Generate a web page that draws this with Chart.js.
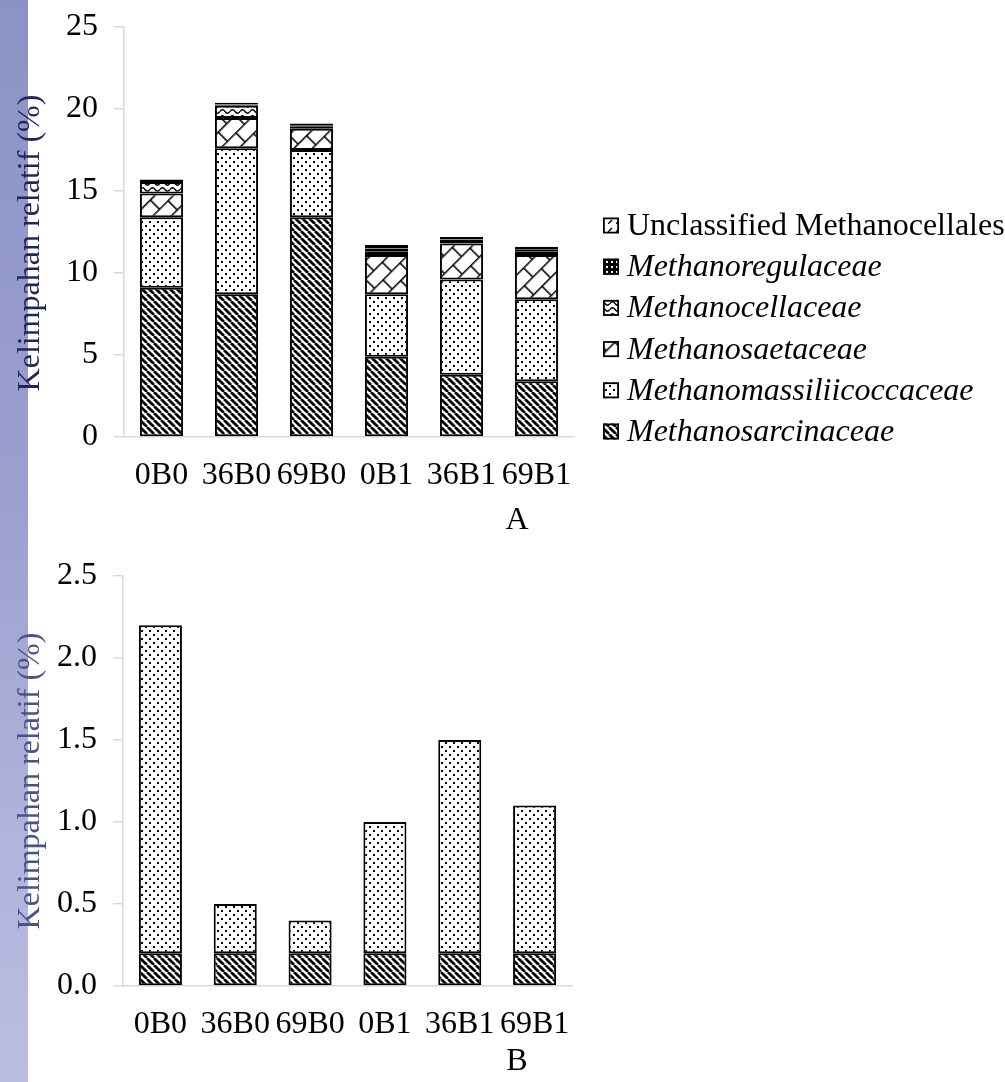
<!DOCTYPE html>
<html>
<head>
<meta charset="utf-8">
<script src="https://cdn.jsdelivr.net/npm/chart.js@4/dist/chart.umd.min.js"></script>
<style>
  html, body { margin: 0; padding: 0; background: #ffffff; }
  body { width: 1005px; height: 1082px; position: relative; overflow: hidden; }
  #band { position: absolute; left: 0; top: 0; width: 28px; height: 1082px;
          background: linear-gradient(to bottom, #8c92c5 0%, #9a9fce 45%, #b2b5dc 80%, #bbbde1 100%); }
  canvas { position: absolute; left: 0; }
  #chartA { top: 0; }
  #chartB { top: 545px; }
</style>
</head>
<body>
<div id="band"></div>
<canvas id="chartA" width="1005" height="545"></canvas>
<canvas id="chartB" width="1005" height="537"></canvas>
<script>
// ---- data -------------------------------------------------------------
const categories = ['0B0', '36B0', '69B0', '0B1', '36B1', '69B1'];

// Panel A: methanogen families (relative abundance, %)
const methanosarcinaceae       = [9.1, 8.7, 13.4, 4.9, 3.8, 3.4];
const methanomassiliicoccaceae = [4.3, 8.9, 4.1, 3.8, 5.8, 5.0];
const methanosaetaceae         = [1.45, 1.85, 1.3, 2.4, 2.2, 2.7];
const methanocellaceae         = [0.7, 0.75, 0.15, 0.2, 0.15, 0.2];
const methanoregulaceae        = [0.06, 0.08, 0.06, 0.2, 0.1, 0.15];
const unclassifiedMethanocellales = [0.09, 0.1, 0.1, 0.2, 0.15, 0.15];

// Panel B: methanotroph groups (relative abundance, %)
const methylocystaceae = [0.2, 0.2, 0.2, 0.2, 0.2, 0.2];
const anme2d           = [2.0, 0.3, 0.2, 0.8, 1.3, 0.9];

const ticksA = [0, 5, 10, 15, 20, 25];
const ticksB = [0.0, 0.5, 1.0, 1.5, 2.0, 2.5];
const axisTitle = 'Kelimpahan relatif (%)';

// ---- fill patterns ----------------------------------------------------
const FONT = "'Liberation Serif', 'Times New Roman', serif";
const FONT_SIZE = 32;
const patCtx = document.createElement('canvas').getContext('2d');

function makeTile(w, h, draw) {
  const c = document.createElement('canvas');
  c.width = w; c.height = h;
  const g = c.getContext('2d');
  g.fillStyle = '#ffffff';
  g.fillRect(0, 0, w, h);
  draw(g, w, h);
  return c;
}

function diagStripes() {           // wide downward diagonal
  const t = makeTile(7, 7, (g, w) => {
    g.strokeStyle = '#000'; g.lineWidth = 2.7;
    for (const k of [-w, 0, w]) { g.beginPath(); g.moveTo(k, 0); g.lineTo(k + w, w); g.stroke(); }
  });
  return patCtx.createPattern(t, 'repeat');
}
function dots() {                  // sparse dot grid
  const t = makeTile(8, 8, g => {
    g.fillStyle = '#000';
    g.fillRect(1, 1, 2, 2);
    g.fillRect(5, 5, 2, 2);
  });
  return patCtx.createPattern(t, 'repeat');
}
function diagBrick() {             // diagonal brick
  const t = makeTile(24, 26, g => {
    g.strokeStyle = '#000'; g.lineWidth = 1.6;
    g.beginPath();
    g.moveTo(0, 0.8); g.lineTo(24, 0.8);
    g.moveTo(0, 13.8); g.lineTo(24, 13.8);
    g.moveTo(0.8, 0); g.lineTo(0.8, 13.8);
    g.moveTo(12.8, 13.8); g.lineTo(12.8, 26);
    g.stroke();
  });
  const p = patCtx.createPattern(t, 'repeat');
  p.setTransform(new DOMMatrix().rotate(-45));
  return p;
}
function wave() {                  // wave
  const t = makeTile(10, 6, g => {
    g.strokeStyle = '#000'; g.lineWidth = 1.3;
    g.beginPath();
    g.moveTo(0, 3.5);
    g.quadraticCurveTo(2.5, 0, 5, 3.5);
    g.quadraticCurveTo(7.5, 7, 10, 3.5);
    g.stroke();
  });
  return patCtx.createPattern(t, 'repeat');
}
function darkDots() {              // black with white dots
  const t = makeTile(5, 5, g => {
    g.fillStyle = '#000'; g.fillRect(0, 0, 5, 5);
    g.fillStyle = '#fff'; g.fillRect(1, 1, 2, 2);
  });
  return patCtx.createPattern(t, 'repeat');
}
function dashedUp() {              // dashed upward diagonal
  const t = makeTile(8, 8, g => {
    g.strokeStyle = '#000'; g.lineWidth = 1.4;
    g.beginPath(); g.moveTo(0, 8); g.lineTo(4, 4); g.stroke();
  });
  return patCtx.createPattern(t, 'repeat');
}

// ---- plugins ----------------------------------------------------------
// Legend drawn as a vertical list of pattern swatches to the right of the plot.
const swatchLegend = {
  id: 'swatchLegend',
  afterDraw(chart, args, opts) {
    const ctx = chart.ctx;
    const sets = chart.data.datasets.slice().reverse();
    ctx.save();
    sets.forEach((ds, i) => {
      const cy = opts.top + i * opts.step;
      const s = opts.box;
      ctx.fillStyle = ds.backgroundColor;
      ctx.fillRect(opts.x, cy - s / 2, s, s);
      ctx.lineWidth = 1.8;
      ctx.strokeStyle = '#000';
      ctx.strokeRect(opts.x + 0.9, cy - s / 2 + 0.9, s - 1.8, s - 1.8);
      ctx.fillStyle = '#000';
      ctx.font = (ds.italicName ? 'italic ' : '') + FONT_SIZE + 'px ' + FONT;
      ctx.textAlign = 'left';
      ctx.textBaseline = 'middle';
      ctx.fillText(ds.label, opts.textX, cy + 1);
    });
    ctx.restore();
  }
};

// Rotated y-axis title and the panel letter under the axis.
const panelText = {
  id: 'panelText',
  afterDraw(chart, args, opts) {
    const ctx = chart.ctx;
    ctx.save();
    ctx.font = FONT_SIZE + 'px ' + FONT;
    ctx.fillStyle = opts.titleColor;
    ctx.textAlign = 'center';
    ctx.textBaseline = 'middle';
    ctx.translate(opts.titleX, opts.titleY);
    ctx.rotate(-Math.PI / 2);
    ctx.fillText(axisTitle, 0, 0);
    ctx.restore();
    ctx.save();
    ctx.font = FONT_SIZE + 'px ' + FONT;
    ctx.fillStyle = '#000';
    ctx.textAlign = 'center';
    ctx.textBaseline = 'middle';
    ctx.fillText(opts.letter, opts.letterX, opts.letterY);
    ctx.restore();
  }
};

// ---- shared chart builder ---------------------------------------------
function barSet(label, data, fill, italicName) {
  return {
    label, data, italicName,
    backgroundColor: fill,
    borderColor: '#000',
    borderWidth: 2,
    borderSkipped: false,
    categoryPercentage: 1.0,
    barPercentage: 0.575
  };
}

function noScalePadding(s) {
  s.paddingTop = 0; s.paddingBottom = 0; s.paddingLeft = 0; s.paddingRight = 0;
}

function build(canvasId, datasets, cfg) {
  return new Chart(document.getElementById(canvasId), {
    type: 'bar',
    data: { labels: categories, datasets },
    plugins: [swatchLegend, panelText],
    options: {
      responsive: false,
      animation: false,
      devicePixelRatio: 1,
      layout: { padding: { left: 0, top: cfg.top, right: cfg.right, bottom: cfg.bottom } },
      plugins: {
        legend: { display: false },
        tooltip: { enabled: false },
        title: { display: false },
        swatchLegend: cfg.legend,
        panelText: cfg.text
      },
      scales: {
        x: {
          stacked: true,
          grid: { display: true, drawOnChartArea: false, drawTicks: false, color: '#d9d9d9' },
          border: { display: true, color: '#d9d9d9', width: 1.5 },
          ticks: { color: '#000', font: { family: FONT, size: FONT_SIZE }, padding: 19, maxRotation: 0, autoSkip: false },
          afterFit: s => { s.height = 60; noScalePadding(s); }
        },
        y: {
          stacked: true,
          min: cfg.ticks[0],
          max: cfg.ticks[cfg.ticks.length - 1],
          afterBuildTicks: s => { s.ticks = cfg.ticks.map(v => ({ value: v })); },
          grid: { display: true, drawOnChartArea: false, drawTicks: true, tickLength: 10, color: '#d9d9d9', lineWidth: 1.5 },
          border: { display: true, color: '#d9d9d9', width: 1.5 },
          ticks: {
            color: '#000', font: { family: FONT, size: FONT_SIZE }, padding: 16,
            callback: v => cfg.fmt(v)
          },
          afterFit: s => { s.width = cfg.axisLeft; noScalePadding(s); }
        }
      }
    }
  });
}

// ---- panel A ----------------------------------------------------------
build('chartA', [
  barSet('Methanosarcinaceae', methanosarcinaceae, diagStripes(), true),
  barSet('Methanomassiliicoccaceae', methanomassiliicoccaceae, dots(), true),
  barSet('Methanosaetaceae', methanosaetaceae, diagBrick(), true),
  barSet('Methanocellaceae', methanocellaceae, wave(), true),
  barSet('Methanoregulaceae', methanoregulaceae, darkDots(), true),
  barSet('Unclassified Methanocellales', unclassifiedMethanocellales, dashedUp(), false)
], {
  top: 27, right: 431, bottom: 48, axisLeft: 124,
  ticks: ticksA, fmt: v => String(v),
  legend: { x: 603, top: 225.5, step: 41.2, box: 16, textX: 627 },
  text: { titleX: 31, titleY: 243, titleColor: '#1e2758', letter: 'A', letterX: 517, letterY: 521 }
});

// ---- panel B ----------------------------------------------------------
build('chartB', [
  barSet('Methylocystaceae', methylocystaceae, diagStripes(), true),
  barSet('ANME-2D', anme2d, dots(), false)
], {
  top: 31, right: 433, bottom: 36, axisLeft: 123,
  ticks: ticksB, fmt: v => Number(v).toFixed(1),
  legend: { x: 603, top: 933, step: 37, box: 16, textX: 627 },
  text: { titleX: 31, titleY: 236, titleColor: '#4a5388', letter: 'B', letterX: 517, letterY: 517 }
});
</script>
</body>
</html>
